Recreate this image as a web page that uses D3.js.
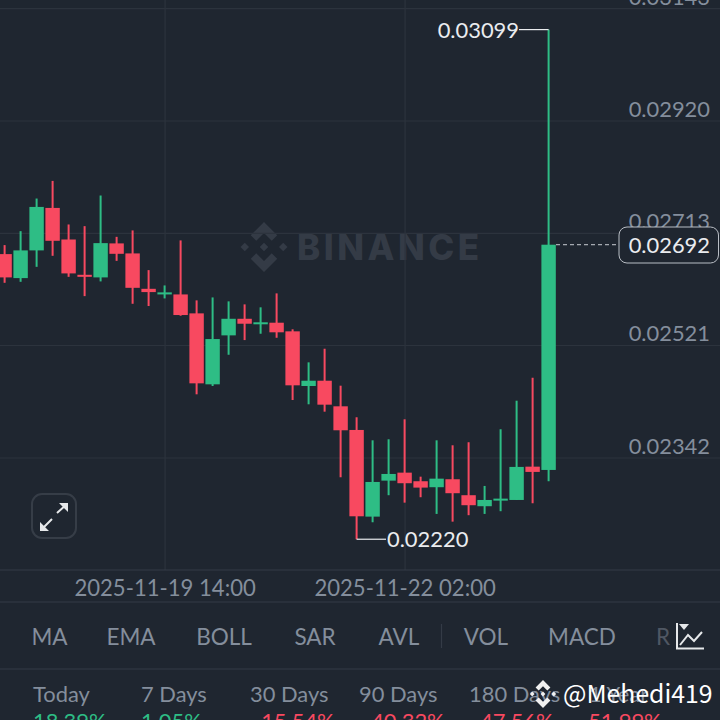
<!DOCTYPE html>
<html>
<head>
<meta charset="utf-8">
<title>Candlestick chart</title>
<script src="https://d3js.org/d3.v7.min.js"></script>
<style>
    body { margin: 0; padding: 0; background: #1f2630; overflow: hidden; }
    svg { display: block; font-family: Lato, "Open Sans", sans-serif; }
</style>
</head>
<body>
<script>
// 4h candles
var opens  = [.026755,.026338,.026820,.027576,.027012,.026395,.026350,.026943,.026767,.026154,.026058,.026058,.025737,.024569,.025369,.025646,.025563,.025580,.025436,.024542,.024627,.024218,.023846,.022531,.023068,.023189,.023059,.022969,.023089,.022849,.022685,.022774,.022778,.023280,.023230];
var highs  = [.026913,.027160,.027746,.028068,.027279,.027249,.027801,.027059,.027173,.026476,.026212,.026996,.025957,.026007,.025940,.025889,.025839,.026076,.025470,.024925,.025148,.024547,.024045,.023685,.023701,.024013,.023128,.023685,.023608,.023655,.022988,.023857,.024307,.024675,.03099];
var lows   = [.026257,.026274,.026533,.026725,.026360,.026029,.026281,.026637,.025899,.025861,.025990,.025697,.024409,.024542,.025049,.025291,.025396,.025329,.024318,.024250,.024133,.023119,.02220,.022448,.022849,.022738,.022819,.022571,.022457,.022552,.022571,.022611,.022778,.022729,.023059];
var closes = [.026350,.026820,.027594,.026989,.026419,.026360,.026948,.026760,.026171,.026098,.026093,.025709,.024585,.025308,.025646,.025563,.025587,.025420,.024553,.024627,.024244,.023841,.022536,.023048,.023169,.023029,.022963,.023098,.022879,.022700,.022778,.022798,.023276,.023200,.02692];

var priceTicks = [0.03143, 0.02920, 0.02713, 0.02521, 0.02342];
var timeTickIdx = [10, 25];
var timeTickLabels = ["2025-11-19 14:00", "2025-11-22 02:00"];
var lastPrice = 0.02692, highPrice = 0.03099, lowPrice = 0.02220;
var indicators = ["MA", "EMA", "BOLL", "SAR", "AVL", "VOL", "MACD", "R"];
var indicatorX = [49.5, 131, 224, 315, 399, 486, 582, 663];
var periods = ["Today", "7 Days", "30 Days", "90 Days", "180 Days", "1 Year"];
var periodX = [33, 141, 250, 359, 469, 589];
var changes = ["18.39%", "1.05%", "-15.54%", "-40.32%", "-47.56%", "-51.99%"];
var changeX = [33, 141, 253, 363, 472, 580];

var w = 720, h = 720;
var green = "#2ebd85", red = "#f84960", grid = "#2c333d", dim = "#848e9c";
var labelSize = 21.9;

var svg = d3.select("body").append("svg").attr("width", w).attr("height", h);
svg.append("rect").attr("width", w).attr("height", h).attr("fill", "#1f2630");

var x = d3.scaleLinear().domain([0, 34]).range([4.6, 548.6]);
var y = d3.scaleLog().domain([0.02342, 0.02920]).range([457.5, 120.5]);

function logo(g, cx, cy, r, color) {
    var shapes = [
        [[0,-.17],[.17,0],[0,.17],[-.17,0]],
        [[.77,-.17],[.94,0],[.77,.17],[.6,0]],
        [[-.77,-.17],[-.6,0],[-.77,.17],[-.94,0]],
        [[0,-1],[.53,-.47],[.31,-.25],[0,-.56],[-.31,-.25],[-.53,-.47]],
        [[0,1],[.53,.47],[.31,.25],[0,.56],[-.31,.25],[-.53,.47]]
    ];
    g.selectAll(null).data(shapes).enter().append("polygon")
        .attr("fill", color)
        .attr("points", function(s) {
            return s.map(function(p) { return (cx + p[0] * r) + "," + (cy + p[1] * r); }).join(" ");
        });
}

// watermark
var mark = svg.append("g");
logo(mark, 264, 247, 25, "#343b46");
mark.append("text").attr("x", 297).attr("y", 260)
    .attr("font-family", "Inter").attr("font-weight", 800).attr("font-size", 35)
    .attr("textLength", 182).attr("fill", "#343b46").text("BINANCE");

// price axis, grid lines run across the whole width
var yAxis = d3.axisLeft(y).tickValues(priceTicks).tickSize(w)
    .tickFormat(d3.format(".5f"));
var yg = svg.append("g").attr("transform", "translate(" + w + ",0)").call(yAxis);
yg.select(".domain").remove();
yg.selectAll("line").attr("stroke", grid).attr("stroke-width", 1.2);
yg.selectAll("text").attr("x", -10).attr("y", -4).attr("dy", 0)
    .attr("font-size", labelSize).attr("fill", dim).attr("font-family", "Lato");

// time axis
var xAxis = d3.axisBottom(x).tickValues(timeTickIdx).tickSize(-570)
    .tickFormat(function(d, i) { return timeTickLabels[i]; });
var xg = svg.append("g").attr("transform", "translate(0,570)").call(xAxis);
xg.select(".domain").remove();
xg.selectAll("line").attr("stroke", grid).attr("stroke-width", 1.2);
xg.selectAll("text").attr("y", 26).attr("dy", 0)
    .attr("font-size", labelSize + 0.2).attr("fill", dim).attr("font-family", "Lato");

// panel separators
svg.selectAll(".sep").data([570, 602, 669]).enter().append("line")
    .attr("x1", 0).attr("x2", w)
    .attr("y1", function(d) { return d; }).attr("y2", function(d) { return d; })
    .attr("stroke", "#343b46").attr("stroke-width", 1.2);

// candles
var candles = svg.append("g").selectAll("g").data(opens).enter().append("g")
    .attr("fill", function(d, i) { return closes[i] >= opens[i] ? green : red; })
    .attr("stroke", "none");
candles.append("rect")
    .attr("x", function(d, i) { return x(i) - 1; })
    .attr("width", 2)
    .attr("y", function(d, i) { return y(highs[i]); })
    .attr("height", function(d, i) { return y(lows[i]) - y(highs[i]); });
candles.append("rect")
    .attr("x", function(d, i) { return x(i) - 7.2; })
    .attr("width", 14.4)
    .attr("y", function(d, i) { return y(Math.max(opens[i], closes[i])); })
    .attr("height", function(d, i) { return Math.max(2, Math.abs(y(opens[i]) - y(closes[i]))); });

// high / low callouts
var callout = "#eaecef";
svg.append("line").attr("x1", 519).attr("x2", x(34)).attr("y1", y(highPrice)).attr("y2", y(highPrice))
    .attr("stroke", callout).attr("stroke-width", 1.2);
svg.append("text").attr("x", 519).attr("y", y(highPrice) + 8).attr("text-anchor", "end")
    .attr("font-size", labelSize).attr("fill", callout).attr("font-family", "Lato").text(d3.format(".5f")(highPrice));
svg.append("line").attr("x1", x(22)).attr("x2", 386).attr("y1", y(lowPrice)).attr("y2", y(lowPrice))
    .attr("stroke", callout).attr("stroke-width", 1.2);
svg.append("text").attr("x", 387).attr("y", y(lowPrice) + 8)
    .attr("font-size", labelSize).attr("fill", callout).attr("font-family", "Lato").text(d3.format(".5f")(lowPrice));

// last price tag
svg.append("line").attr("x1", 556).attr("x2", 619).attr("y1", y(lastPrice)).attr("y2", y(lastPrice))
    .attr("stroke", "#c8ccd2").attr("stroke-width", 1).attr("stroke-dasharray", "4,3");
svg.append("rect").attr("x", 619).attr("y", 227).attr("width", 99.5).attr("height", 36).attr("rx", 8)
    .attr("fill", "#1f2630").attr("stroke", "#b9bec5").attr("stroke-width", 1);
svg.append("text").attr("x", 710).attr("y", 253).attr("text-anchor", "end")
    .attr("font-size", labelSize).attr("fill", callout).attr("font-family", "Lato").text(d3.format(".5f")(lastPrice));

// expand button
var btn = svg.append("g");
btn.append("rect").attr("x", 32).attr("y", 494).attr("width", 44).attr("height", 44).attr("rx", 10)
    .attr("fill", "none").attr("stroke", "#363d47").attr("stroke-width", 2);
btn.append("path").attr("d", "M42 529 L52 519 M57 513 L67 504").attr("stroke", "#e6e8ea").attr("stroke-width", 2).attr("fill", "none");
btn.append("path").attr("d", "M40 531 L40 522 L49 531 Z M68 503 L68 512 L59 503 Z").attr("fill", "#e6e8ea");

// indicator tabs
svg.selectAll(".tab").data(indicators).enter().append("text")
    .attr("x", function(d, i) { return indicatorX[i]; })
    .attr("y", 645).attr("text-anchor", "middle")
    .attr("font-size", 22.5).attr("font-family", "Lato")
    .attr("fill", function(d) { return d === "R" ? "#4f5763" : dim; })
    .text(function(d) { return d; });
svg.append("line").attr("x1", 441.5).attr("x2", 441.5).attr("y1", 624).attr("y2", 648)
    .attr("stroke", "#343b46").attr("stroke-width", 1.2);

// chart type icon
svg.append("path").attr("d", "M677 623 V648.5 H704").attr("stroke", "#e6e8ea").attr("stroke-width", 2).attr("fill", "none");
svg.append("path").attr("d", "M680 645 L688 635 L694 641 L702 632").attr("stroke", "#e6e8ea").attr("stroke-width", 2).attr("fill", "none");
svg.append("path").attr("d", "M679 624 H689 L684 630 Z").attr("fill", "#e6e8ea");

// performance row, the values are cut off by the window
svg.selectAll(".period").data(periods).enter().append("text")
    .attr("x", function(d, i) { return periodX[i]; })
    .attr("y", 702).attr("font-size", labelSize).attr("font-family", "Lato").attr("fill", dim)
    .text(function(d) { return d; });
svg.selectAll(".chg").data(changes).enter().append("text")
    .attr("x", function(d, i) { return changeX[i]; })
    .attr("y", 729).attr("font-size", labelSize).attr("font-family", "Lato")
    .attr("fill", function(d) { return d[0] === "-" ? red : green; })
    .text(function(d) { return d; });

// poster tag on top of everything
var tag = svg.append("g");
logo(tag, 543, 694, 14, "#f0f0f0");
tag.append("text").attr("x", 563).attr("y", 703).attr("font-size", 24.8)
    .attr("font-family", "Noto Sans CJK SC").attr("fill", "#ffffff").text("@Mehedi419");
</script>
</body>
</html>
